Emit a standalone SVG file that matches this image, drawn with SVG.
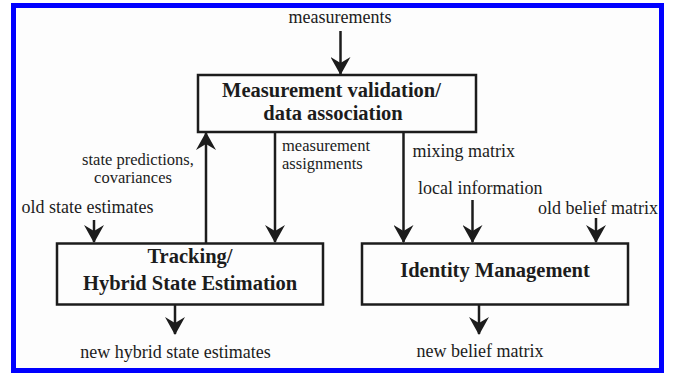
<svg xmlns="http://www.w3.org/2000/svg" width="677" height="373" viewBox="0 0 677 373">
  <style>
    .lbl { font-family: "Liberation Serif", "Times New Roman", serif; font-size: 18px; fill: #1c1c1c; }
    .sm { font-size: 16.5px; }
    .ttl { font-family: "Liberation Serif", "Times New Roman", serif; font-size: 20.5px; font-weight: bold; fill: #1c1c1c; }
    .mid { text-anchor: middle; }
    .box { fill: none; stroke: #1c1c1c; stroke-width: 2.5; }
    .wire { stroke: #1c1c1c; stroke-width: 2.5; fill: none; marker-end: url(#head); }
  </style>
  <defs>
    <marker id="head" viewBox="0 0 18 20" markerWidth="18" markerHeight="20" refX="17" refY="10" orient="auto" markerUnits="userSpaceOnUse">
      <path d="M0,0 L18,10 L0,20 L6,10 Z" fill="#1c1c1c"/>
    </marker>
  </defs>

  <!-- frame -->
  <rect x="0" y="0" width="677" height="373" fill="#ffffff"/>
  <rect x="13.5" y="5.5" width="648" height="365" fill="#fdfdfd" stroke="#0000ff" stroke-width="5"/>

  <!-- connectors -->
  <g id="connectors">
    <line class="wire" x1="340.5" y1="31" x2="340.5" y2="74"/>
    <line class="wire" x1="206" y1="243" x2="206" y2="133"/>
    <line class="wire" x1="275" y1="133" x2="275" y2="242"/>
    <line class="wire" x1="94" y1="220" x2="94" y2="242"/>
    <line class="wire" x1="403.5" y1="133" x2="403.5" y2="242"/>
    <line class="wire" x1="472.5" y1="200" x2="472.5" y2="242"/>
    <line class="wire" x1="596" y1="218" x2="596" y2="242"/>
    <line class="wire" x1="175" y1="305" x2="175" y2="334"/>
    <line class="wire" x1="479" y1="305" x2="479" y2="334"/>
  </g>

  <!-- connector labels -->
  <g id="labels">
    <text class="lbl mid" x="340" y="23">measurements</text>
    <text class="lbl sm mid" x="138" y="165">state predictions,</text>
    <text class="lbl sm mid" x="133" y="183">covariances</text>
    <text class="lbl sm" x="282" y="151">measurement</text>
    <text class="lbl sm" x="282" y="169">assignments</text>
    <text class="lbl" x="412.5" y="157">mixing matrix</text>
    <text class="lbl" x="418" y="194">local information</text>
    <text class="lbl" x="538" y="214">old belief matrix</text>
    <text class="lbl" x="21.5" y="213">old state estimates</text>
    <text class="lbl mid" x="175.5" y="358">new hybrid state estimates</text>
    <text class="lbl mid" x="480" y="357">new belief matrix</text>
  </g>

  <g id="validation">
    <rect class="box" x="198" y="75" width="278" height="57"/>
    <text class="ttl mid" x="331.5" y="97">Measurement validation/</text>
    <text class="ttl mid" x="333" y="120">data association</text>
  </g>

  <g id="tracking">
    <rect class="box" x="57" y="243.5" width="266" height="61"/>
    <text class="ttl mid" x="190" y="263">Tracking/</text>
    <text class="ttl mid" x="190" y="290">Hybrid State Estimation</text>
  </g>

  <g id="identity">
    <rect class="box" x="362" y="243.5" width="266" height="61"/>
    <text class="ttl mid" x="495" y="277">Identity Management</text>
  </g>
</svg>
